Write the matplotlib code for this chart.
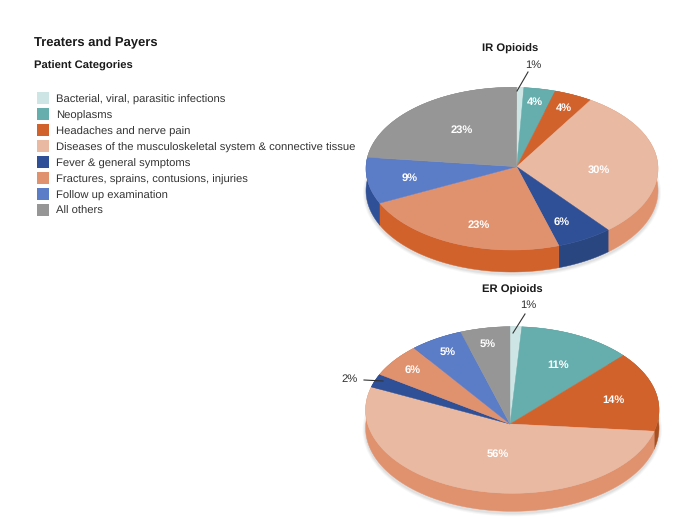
#!/usr/bin/env python3
# Treaters and Payers: two tilted 3D pies with a shared legend, drawn in pixel coords

import matplotlib
matplotlib.use('Agg')
import matplotlib.pyplot as plt
from matplotlib.patches import Ellipse
import numpy as np

plt.rcParams['font.family'] = ['Liberation Sans', 'DejaVu Sans']
plt.rcParams['text.hinting'] = 'no_hinting'

categories = ["Bacterial, viral, parasitic infections", "Neoplasms",
              "Headaches and nerve pain",
              "Diseases of the musculoskeletal system & connective tissue",
              "Fever & general symptoms",
              "Fractures, sprains, contusions, injuries",
              "Follow up examination", "All others"]
# slice sizes, printed labels are rounded
ir_values = [0.8, 3.6, 4.4, 30.4, 6.2, 22.5, 8.9, 23.2]
er_values = [1.1, 10.9, 14.4, 55.6, 2.4, 5.7, 5.2, 4.7]

top_colors  = ['#cde6e5', '#65aead', '#d2622c', '#e9b9a2', '#2f5096', '#e0926f', '#5b7cc7', '#969696']
side_colors = ['#b5d2d1', '#54908f', '#a8501f', '#e0926f', '#2a4680', '#d2622c', '#2f5096', '#7c7c7c']

text_dy = 1.5   # text sits a little low in the reference


def rim_point(angle, vx, vy, cx, cy, rx, ry):
    # Ray from the pie vertex hits the tilted ellipse; angle is clockwise from 12 o'clock
    dx, dy = np.sin(angle) * rx, -np.cos(angle) * ry
    ox, oy = (vx - cx) / rx, (vy - cy) / ry
    ux, uy = dx / rx, dy / ry
    a = ux**2 + uy**2
    b = 2 * (ox * ux + oy * uy)
    c = ox**2 + oy**2 - 1
    t = (-b + np.sqrt(b**2 - 4 * a * c)) / (2 * a)
    return vx + t * dx, vy + t * dy


def draw_pie(ax, values, vx, vy, cx, cy, rx, ry, depth):
    # soft shadow under the disc
    for grow, alpha in [(6, 0.03), (4, 0.04), (2, 0.05)]:
        ax.add_patch(Ellipse((cx, cy + depth + 2), 2 * rx + grow, 2 * ry + grow,
                             color='black', alpha=alpha, lw=0, zorder=1))
    edges = np.cumsum([0] + list(values)) / sum(values) * 2 * np.pi
    arcs = []
    for start, end in zip(edges[:-1], edges[1:]):
        angles = np.linspace(start, end, 80)
        arcs.append(np.array([rim_point(a, vx, vy, cx, cy, rx, ry) for a in angles]))
    for arc, col in zip(arcs, side_colors):
        ax.fill(np.r_[arc[:, 0], arc[::-1, 0]], np.r_[arc[:, 1], arc[::-1, 1] + depth],
                color=col, lw=0.3, zorder=2)
    for arc, col in zip(arcs, top_colors):
        ax.fill(np.r_[vx, arc[:, 0]], np.r_[vy, arc[:, 1]], color=col, lw=0.3, zorder=3)


fig = plt.figure(figsize=(7.0, 5.26), dpi=100)
ax = fig.add_axes([0, 0, 1, 1])
ax.set_xlim(0, 700)
ax.set_ylim(526, 0)
ax.axis('off')

draw_pie(ax, ir_values, 516.7, 166.7, 512, 168.7, 146, 81.3, 22)
draw_pie(ax, er_values, 510, 424, 512.3, 410, 146.7, 83.3, 18)

# headings
ax.text(34, 41 + text_dy, "Treaters and Payers", fontsize=9.35, fontweight='bold', color='#1a1a1a', va='center')
ax.text(34, 64 + text_dy, "Patient Categories", fontsize=8.1, fontweight='bold', color='#1a1a1a', va='center')
ax.text(510, 47 + text_dy, "IR Opioids", fontsize=8.1, fontweight='bold', color='#1a1a1a', ha='center', va='center')
ax.text(512, 288 + text_dy, "ER Opioids", fontsize=8.1, fontweight='bold', color='#1a1a1a', ha='center', va='center')

# legend
for i, (name, col) in enumerate(zip(categories, top_colors)):
    y = 98 + 16 * i
    ax.fill([37, 49, 49, 37], [y - 6, y - 6, y + 6, y + 6], color=col, lw=0)
    ax.text(56, y + text_dy, name, fontsize=8.09, color='#333333', va='center')

# value labels
ir_labels = ['4%', '4%', '30%', '6%', '23%', '9%', '23%']
ir_label_x = [535, 564, 599, 562, 479, 410, 462]
ir_label_y = [101, 107, 169, 221, 224, 177, 129]
er_labels = ['11%', '14%', '56%', '6%', '5%', '5%']
er_label_x = [558, 613, 498, 413, 448, 488]
er_label_y = [364, 399, 453, 369, 351, 343]
for s, x, y in list(zip(ir_labels, ir_label_x, ir_label_y)) + list(zip(er_labels, er_label_x, er_label_y)):
    ax.text(x, y + text_dy, s, fontsize=8, fontweight='bold', color='white', ha='center', va='center', zorder=5)

# outside labels with leader lines
ax.text(533, 64 + text_dy, '1%', fontsize=8.09, color='#333333', ha='center', va='center')
ax.plot([528, 517], [72, 91], color='#333333', lw=0.8, zorder=5)
ax.text(528, 304 + text_dy, '1%', fontsize=8.09, color='#333333', ha='center', va='center')
ax.plot([525, 513], [314, 333], color='#333333', lw=0.8, zorder=5)
ax.text(350, 378 + text_dy, '2%', fontsize=8.09, color='#333333', ha='center', va='center')
ax.plot([364, 383], [380, 381], color='#333333', lw=0.8, zorder=5)

plt.savefig('out.png', dpi=100)
